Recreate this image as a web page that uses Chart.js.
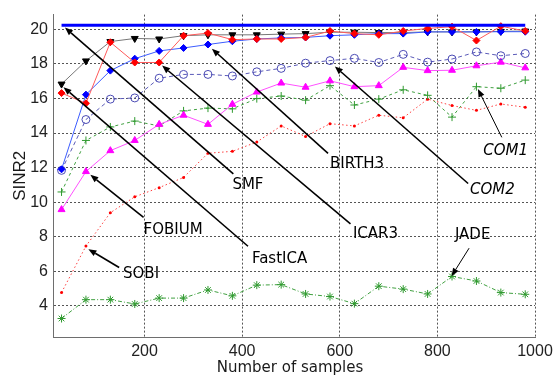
<!DOCTYPE html>
<html>
<head>
<meta charset="utf-8">
<script src="https://cdn.jsdelivr.net/npm/chart.js@4/dist/chart.umd.min.js"></script>
<style>
  html, body { margin: 0; padding: 0; background: #ffffff; }
  canvas { display: block; }
</style>
</head>
<body>
<canvas id="sinr" width="560" height="381"></canvas>
<script>
// Number of samples at which each separation method was evaluated
const samples = [30, 80, 130, 180, 230, 280, 330, 380, 430, 480, 530, 580, 630, 680, 730, 780, 830, 880, 930, 980];

// Output SINR of the second source for each method
const smf     = [20.24, 20.24, 20.24, 20.24, 20.24, 20.24, 20.24, 20.24, 20.24, 20.24, 20.24, 20.24, 20.24, 20.24, 20.24, 20.24, 20.24, 20.24, 20.24, 20.24];
const fastica = [16.83, 18.17, 19.29, 19.47, 19.44, 19.63, 19.68, 19.68, 19.68, 19.72, 19.75, 19.83, 19.83, 19.81, 19.81, 19.85, 19.85, 19.85, 19.88, 19.90];
const icar3   = [16.31, 15.72, 19.25, 18.08, 18.08, 19.63, 19.78, 19.40, 19.44, 19.44, 19.53, 19.90, 19.75, 19.68, 19.90, 20.05, 20.15, 19.35, 20.18, 19.90];
const birth3  = [11.90, 16.22, 17.61, 18.30, 18.75, 18.92, 19.12, 19.31, 19.44, 19.50, 19.53, 19.63, 19.68, 19.75, 19.75, 19.85, 19.85, 19.85, 19.86, 19.86];
const com2    = [11.84, 14.78, 15.96, 16.03, 17.17, 17.39, 17.39, 17.30, 17.54, 17.74, 18.04, 18.19, 18.32, 18.08, 18.55, 18.10, 18.28, 18.69, 18.47, 18.60];
const fobium  = [9.57, 11.77, 12.98, 13.57, 14.50, 15.03, 14.50, 15.66, 16.37, 16.89, 16.65, 17.02, 16.68, 16.74, 17.80, 17.61, 17.63, 17.89, 18.10, 17.77];
const com1    = [10.59, 13.57, 14.35, 14.69, 14.41, 15.28, 15.44, 15.40, 15.99, 16.14, 15.90, 16.74, 15.62, 15.96, 16.50, 16.18, 14.92, 16.68, 16.59, 17.06];
const sobi    = [4.77, 7.46, 9.39, 10.31, 10.84, 11.43, 12.83, 12.94, 13.48, 14.41, 13.80, 14.54, 14.41, 15.03, 14.88, 15.96, 15.59, 15.31, 15.68, 15.49];
const jade    = [3.27, 4.36, 4.36, 4.11, 4.45, 4.45, 4.92, 4.58, 5.20, 5.23, 4.69, 4.54, 4.13, 5.14, 4.97, 4.69, 5.70, 5.44, 4.77, 4.67];

// Axis ticks
const xTicks = [200, 400, 600, 800, 1000];
const yTicks = [4, 6, 8, 10, 12, 14, 16, 18, 20];

// Callout labels: text, arrow tip (x, y), arrow tail (x, y), text anchor (x, y), in data units
const calloutText  = ['SMF', 'FastICA', 'ICAR3', 'BIRTH3', 'COM2', 'COM1', 'JADE', 'FOBIUM', 'SOBI'];
const calloutTipX  = [37, 34, 236, 338, 590, 883, 829, 89, 85];
const calloutTipY  = [20.1, 16.65, 17.9, 18.88, 17.85, 16.55, 5.72, 11.58, 7.28];
const calloutTailX = [382, 412, 622, 576, 863, 932, 865, 198, 148];
const calloutTailY = [11.64, 7.45, 8.74, 12.82, 11.08, 13.75, 7.34, 9.12, 6.22];
const calloutTextX = [380, 420, 627, 580, 867, 894, 836, 198, 156];
const calloutTextY = [10.97, 6.71, 8.17, 12.2, 10.69, 12.98, 8.12, 8.4, 5.83];
const calloutItalic = [false, false, false, false, true, true, false, false, false];
const calloutWidth  = [1.6, 1.6, 1.6, 1.6, 1.6, 1.0, 1.0, 1.6, 1.6];

const pts = ys => samples.map((x, i) => ({ x, y: ys[i] }));

const datasets = [
  { label: 'SMF', data: pts(smf), borderColor: '#0000ff', borderWidth: 3, pointRadius: 0 },
  { label: 'ICAR3', data: pts(icar3), borderColor: '#ff5a5a', borderWidth: 1,
    pointStyle: 'rectRot', pointRadius: 3.5, pointBackgroundColor: '#ff0000', pointBorderColor: '#ff0000', pointBorderWidth: 1 },
  { label: 'BIRTH3', data: pts(birth3), borderColor: '#3c5cff', borderWidth: 1,
    pointStyle: 'rectRot', pointRadius: 3.5, pointBackgroundColor: '#0000ff', pointBorderColor: '#0000ff', pointBorderWidth: 1 },
  { label: 'FastICA', data: pts(fastica), borderColor: '#777777', borderWidth: 1,
    pointStyle: 'triangle', pointRotation: 180, pointRadius: 4, pointBackgroundColor: '#000000', pointBorderColor: '#000000', pointBorderWidth: 1 },
  { label: 'COM2', data: pts(com2), borderColor: '#5a5ab8', borderWidth: 1, borderDash: [4, 3],
    pointStyle: 'circle', pointRadius: 4, pointBackgroundColor: 'rgba(0,0,0,0)', pointBorderColor: '#4a4ab4', pointBorderWidth: 1 },
  { label: 'FOBIUM', data: pts(fobium), borderColor: '#ff50ff', borderWidth: 1,
    pointStyle: 'triangle', pointRadius: 4, pointBackgroundColor: '#ff00ff', pointBorderColor: '#ff00ff', pointBorderWidth: 1 },
  { label: 'COM1', data: pts(com1), borderColor: '#40a040', borderWidth: 1, borderDash: [3, 3],
    pointStyle: 'cross', pointRadius: 4, pointBorderColor: '#2f9a2f', pointBorderWidth: 1 },
  { label: 'SOBI', data: pts(sobi), borderColor: '#ff4040', borderWidth: 1, borderDash: [1.5, 2.5],
    pointStyle: 'circle', pointRadius: 1.5, pointBackgroundColor: '#ff0000', pointBorderColor: '#ff0000', pointBorderWidth: 0 },
  { label: 'JADE', data: pts(jade), borderColor: '#40a040', borderWidth: 1, borderDash: [4, 2, 1, 2],
    pointStyle: 'star', pointRadius: 4, pointBorderColor: '#2f9a2f', pointBorderWidth: 1 }
].map(d => Object.assign({ fill: false, tension: 0, clip: 8 }, d));

// Axis titles and arrowed method labels
const decorations = {
  id: 'decorations',
  afterDatasetsDraw(chart) {
    const { ctx, scales: { x, y }, chartArea } = chart;
    ctx.save();
    ctx.fillStyle = '#000';
    ctx.strokeStyle = '#000';
    calloutText.forEach((txt, i) => {
      const tx = x.getPixelForValue(calloutTipX[i]);
      const ty = y.getPixelForValue(calloutTipY[i]);
      const sx = x.getPixelForValue(calloutTailX[i]);
      const sy = y.getPixelForValue(calloutTailY[i]);
      const ang = Math.atan2(ty - sy, tx - sx);
      const head = 8, half = 3.2;
      const bx = tx - head * Math.cos(ang), by = ty - head * Math.sin(ang);
      ctx.lineWidth = calloutWidth[i];
      ctx.beginPath();
      ctx.moveTo(sx, sy);
      ctx.lineTo(bx, by);
      ctx.stroke();
      ctx.beginPath();
      ctx.moveTo(tx, ty);
      ctx.lineTo(bx + half * Math.sin(ang), by - half * Math.cos(ang));
      ctx.lineTo(bx - half * Math.sin(ang), by + half * Math.cos(ang));
      ctx.closePath();
      ctx.fill();

      ctx.font = (calloutItalic[i] ? 'italic ' : '') + '15px "DejaVu Sans"';
      ctx.textAlign = 'left';
      ctx.textBaseline = 'middle';
      ctx.fillText(txt, x.getPixelForValue(calloutTextX[i]), y.getPixelForValue(calloutTextY[i]));
    });

    ctx.fillStyle = '#1a1a1a';
    ctx.font = '15px "DejaVu Sans"';
    ctx.textAlign = 'center';
    ctx.textBaseline = 'middle';
    ctx.fillText('Number of samples', 290, 368);

    ctx.translate(20, (chartArea.top + chartArea.bottom) / 2);
    ctx.rotate(-Math.PI / 2);
    ctx.font = '17px "Liberation Sans"';
    ctx.fillText('SINR2', 0, 0);
    ctx.restore();
  }
};

new Chart(document.getElementById('sinr'), {
  type: 'line',
  data: { datasets },
  options: {
    responsive: false,
    animation: false,
    events: [],
    layout: { padding: { top: 3, right: 25, left: 0, bottom: 0 } },
    plugins: { legend: { display: false }, tooltip: { enabled: false } },
    scales: {
      x: {
        type: 'linear', min: 12.5, max: 1000,
        afterBuildTicks: s => { s.ticks = xTicks.map(v => ({ value: v })); },
        afterFit: s => { s.height = 44; },
        grid: { color: '#555555', lineWidth: 1, drawTicks: false },
        border: { display: true, color: '#6e6e6e', width: 1, dash: [2, 2] },
        ticks: { padding: 5, color: '#222', font: { family: 'Liberation Sans', size: 16 }, maxRotation: 0, autoSkip: false,
                 callback: v => String(v) }
      },
      y: {
        type: 'linear', min: 2.2, max: 20.85,
        afterBuildTicks: s => { s.ticks = yTicks.map(v => ({ value: v })); },
        afterFit: s => { s.width = 53; },
        grid: { color: '#555555', lineWidth: 1, drawTicks: false },
        border: { display: true, color: '#6e6e6e', width: 1, dash: [2, 2] },
        ticks: { padding: 5, color: '#222', font: { family: 'Liberation Sans', size: 16 }, autoSkip: false,
                 callback: v => String(v) }
      }
    }
  },
  plugins: [decorations]
});
</script>
</body>
</html>
